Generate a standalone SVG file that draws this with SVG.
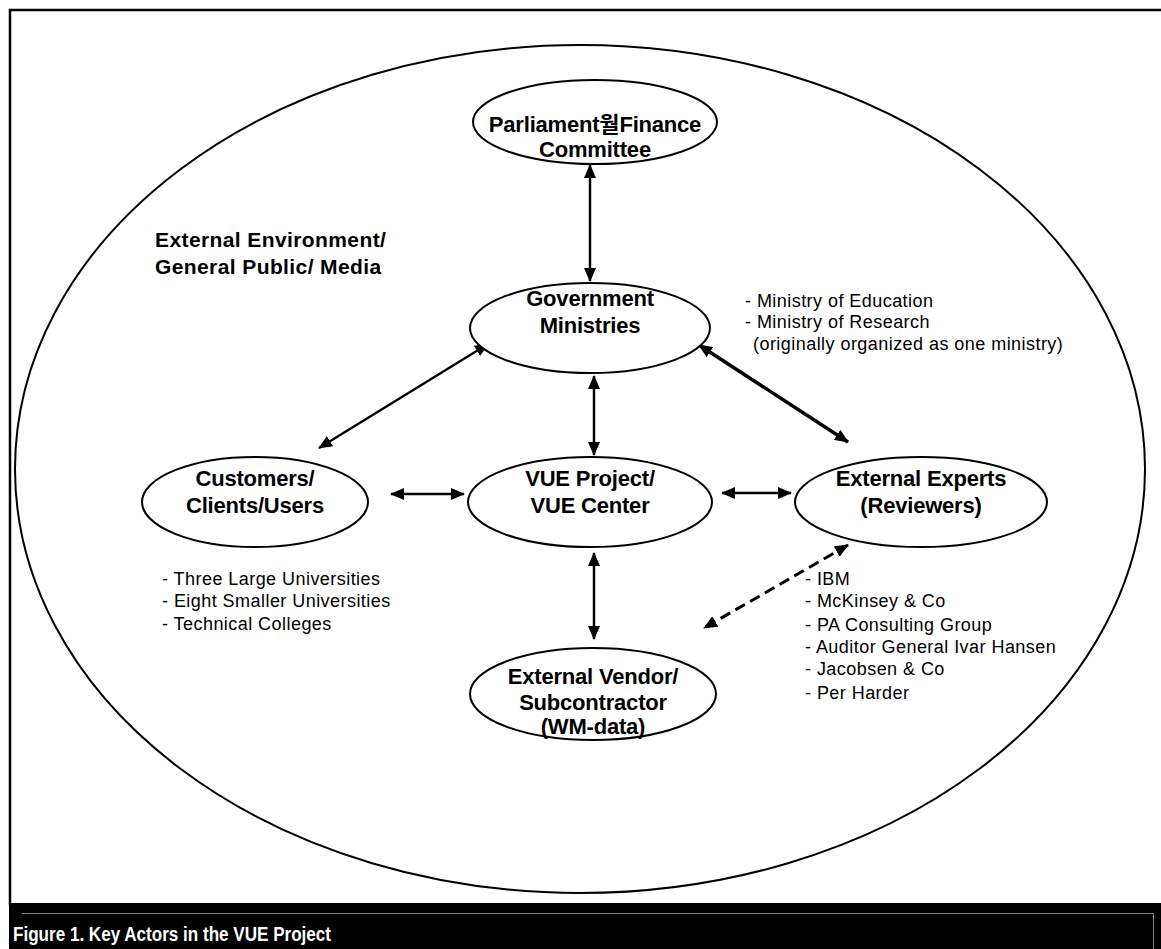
<svg xmlns="http://www.w3.org/2000/svg" width="1161" height="949" viewBox="0 0 1161 949">
<style>
.node{fill:#fff;stroke:#000;stroke-width:2}
.nt{font-family:"Liberation Sans","Noto Sans CJK KR",Arial,sans-serif;font-weight:bold;font-size:22px;letter-spacing:-0.2px;text-anchor:middle;fill:#000}
.lt{font-family:"Liberation Sans",Arial,sans-serif;font-size:18px;letter-spacing:0.45px;fill:#000}
.bt{font-family:"Liberation Sans",Arial,sans-serif;font-weight:bold;font-size:21px;letter-spacing:0.4px;fill:#000}
.ar{fill:none;stroke:#000;stroke-width:2.5;marker-start:url(#ah);marker-end:url(#ah)}
</style>
<defs>
<marker id="ah" viewBox="0 0 14 12" refX="13" refY="6" markerWidth="14" markerHeight="12" markerUnits="userSpaceOnUse" orient="auto-start-reverse">
<path d="M0,0 L14,6 L0,12 z" fill="#000"/>
</marker>
</defs>
<rect width="1161" height="949" fill="#fff"/>
<g id="frame">
<path d="M10,905 V10 H1161" fill="none" stroke="#000" stroke-width="2.5"/>
<rect x="9" y="903" width="1152" height="46" fill="#000"/>
<path d="M22,913.5 H1153.5 V949" fill="none" stroke="#888" stroke-width="1"/>
<text x="13" y="941" font-family="'Liberation Sans',Arial,sans-serif" font-weight="bold" font-size="21" textLength="318" lengthAdjust="spacingAndGlyphs" fill="#fff">Figure 1. Key Actors in the VUE Project</text>
</g>
<g id="environment">
<ellipse cx="580" cy="469" rx="565" ry="424" fill="none" stroke="#000" stroke-width="2"/>
<text class="bt" x="155" y="247">External Environment/</text>
<text class="bt" x="155" y="274">General Public/ Media</text>
</g>
<g id="connectors">
<line class="ar" x1="590" y1="165" x2="590" y2="281"/>
<line class="ar" x1="594" y1="376" x2="594" y2="455"/>
<line class="ar" x1="594" y1="553" x2="594" y2="639"/>
<line class="ar" x1="391" y1="494" x2="464" y2="494"/>
<line class="ar" x1="722" y1="493" x2="791" y2="493"/>
<line class="ar" x1="488" y1="344" x2="319" y2="448"/>
<line class="ar" x1="699" y1="345" x2="848" y2="442" style="stroke-width:3.5"/>
<line class="ar" x1="848" y1="545" x2="704" y2="628" style="stroke-width:3;stroke-dasharray:11 6"/>
</g>
<g id="parliament">
<ellipse class="node" cx="595" cy="122" rx="122" ry="42"/>
<text class="nt" x="595" y="132">Parliament월Finance</text>
<text class="nt" x="595" y="157">Committee</text>
</g>
<g id="government">
<ellipse class="node" cx="590" cy="328" rx="120" ry="45"/>
<text class="nt" x="590" y="306">Government</text>
<text class="nt" x="590" y="333">Ministries</text>
</g>
<g id="customers">
<ellipse class="node" cx="255" cy="502" rx="113" ry="45"/>
<text class="nt" x="255" y="486">Customers/</text>
<text class="nt" x="255" y="513">Clients/Users</text>
</g>
<g id="vue">
<ellipse class="node" cx="590" cy="502" rx="122" ry="45"/>
<text class="nt" x="590" y="486">VUE Project/</text>
<text class="nt" x="590" y="513">VUE Center</text>
</g>
<g id="experts">
<ellipse class="node" cx="921" cy="502" rx="126" ry="45"/>
<text class="nt" x="921" y="486">External Experts</text>
<text class="nt" x="921" y="513">(Reviewers)</text>
</g>
<g id="vendor">
<ellipse class="node" cx="593" cy="694" rx="123" ry="46"/>
<text class="nt" x="593" y="684">External Vendor/</text>
<text class="nt" x="593" y="710">Subcontractor</text>
<text class="nt" x="593" y="734">(WM-data)</text>
</g>
<g id="ministries-list">
<text class="lt" x="745" y="307">- Ministry of Education</text>
<text class="lt" x="745" y="328">- Ministry of Research</text>
<text class="lt" x="753" y="350">(originally organized as one ministry)</text>
</g>
<g id="customers-list">
<text class="lt" x="162" y="585">- Three Large Universities</text>
<text class="lt" x="162" y="607">- Eight Smaller Universities</text>
<text class="lt" x="162" y="630">- Technical Colleges</text>
</g>
<g id="experts-list">
<text class="lt" x="805" y="585">- IBM</text>
<text class="lt" x="805" y="607">- McKinsey &amp; Co</text>
<text class="lt" x="805" y="631">- PA Consulting Group</text>
<text class="lt" x="805" y="653">- Auditor General Ivar Hansen</text>
<text class="lt" x="805" y="675">- Jacobsen &amp; Co</text>
<text class="lt" x="805" y="699">- Per Harder</text>
</g>
</svg>
